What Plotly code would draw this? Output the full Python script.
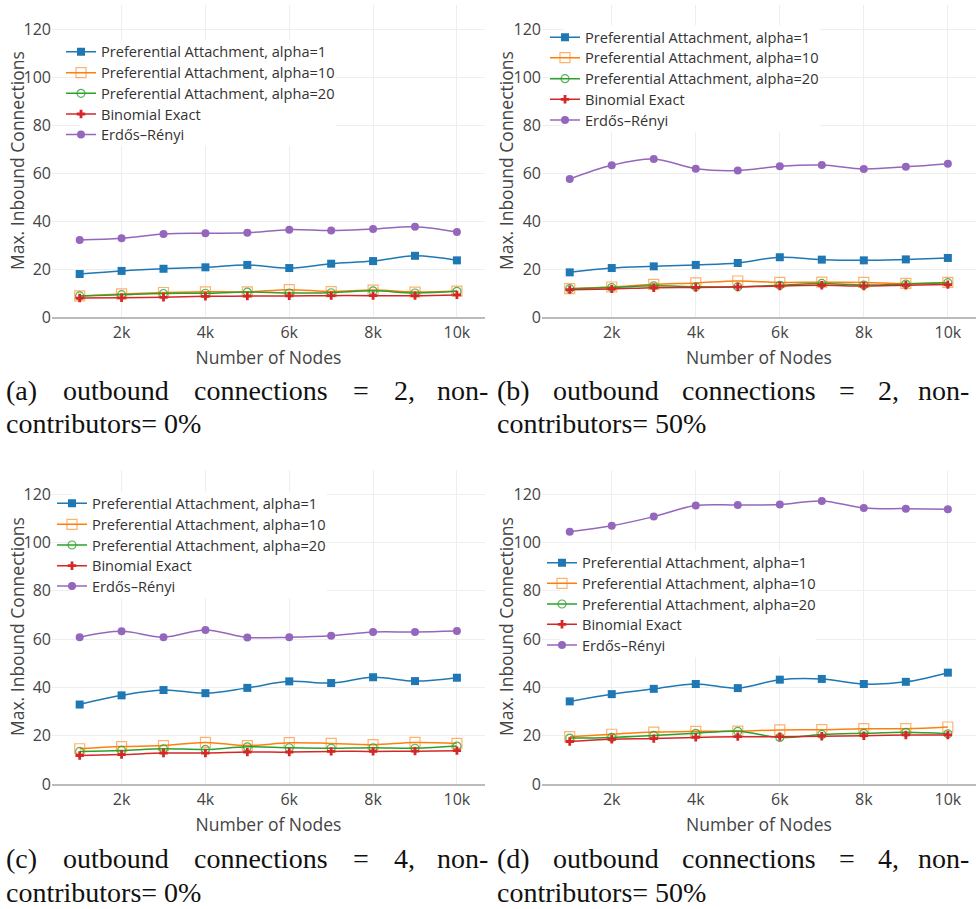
import plotly.graph_objects as go

nodes = [1000, 2000, 3000, 4000, 5000, 6000, 7000, 8000, 9000, 10000]
x_tickvals = [2000, 4000, 6000, 8000, 10000]
x_ticktext = ["2k", "4k", "6k", "8k", "10k"]
y_tickvals = [0, 20, 40, 60, 80, 100, 120]

series_names = [
    "Preferential Attachment, alpha=1",
    "Preferential Attachment, alpha=10",
    "Preferential Attachment, alpha=20",
    "Binomial Exact",
    "Erdős–Rényi",
]

# (a) outbound = 2, non-contributors = 0%
a_pa1 = [17.9, 19.2, 20.1, 20.7, 21.7, 20.4, 22.2, 23.3, 25.5, 23.6]
a_pa10 = [8.8, 9.6, 10.2, 10.5, 10.5, 11.4, 10.6, 11.2, 10.4, 10.8]
a_pa20 = [8.8, 9.3, 9.8, 9.9, 10.4, 10.0, 10.1, 10.9, 10.0, 10.7]
a_bin = [7.9, 8.0, 8.2, 8.6, 8.7, 8.8, 8.9, 8.9, 8.9, 9.2]
a_er = [32.1, 32.8, 34.6, 34.9, 35.1, 36.4, 36.0, 36.7, 37.6, 35.4]

# (b) outbound = 2, non-contributors = 50%
b_pa1 = [18.6, 20.4, 21.1, 21.7, 22.5, 24.9, 23.9, 23.6, 24.0, 24.6]
b_pa10 = [11.8, 12.5, 13.6, 14.2, 15.0, 14.4, 14.5, 14.4, 14.0, 14.4]
b_pa20 = [11.8, 12.3, 13.0, 12.6, 12.6, 13.2, 14.0, 13.3, 13.7, 14.3]
b_bin = [11.4, 11.7, 12.2, 12.3, 12.5, 12.9, 13.2, 12.9, 13.2, 13.5]
b_er = [57.5, 63.2, 65.8, 61.8, 61.0, 62.8, 63.3, 61.7, 62.6, 63.9]

# (c) outbound = 4, non-contributors = 0%
c_pa1 = [32.9, 36.7, 38.9, 37.6, 39.8, 42.5, 41.8, 44.2, 42.6, 44.0]
c_pa10 = [14.6, 15.5, 15.9, 17.2, 15.9, 17.1, 16.8, 16.3, 17.2, 16.8]
c_pa20 = [13.5, 13.9, 14.6, 14.3, 15.4, 15.0, 14.8, 15.0, 14.8, 15.7]
c_bin = [11.8, 12.2, 12.8, 12.8, 13.2, 13.2, 13.5, 13.5, 13.6, 13.8]
c_er = [60.8, 63.2, 60.8, 63.8, 60.7, 60.8, 61.4, 62.9, 62.9, 63.3]

# (d) outbound = 4, non-contributors = 50%
d_pa1 = [34.2, 37.2, 39.4, 41.4, 39.7, 43.2, 43.5, 41.4, 42.3, 46.1]
d_pa10 = [19.6, 20.6, 21.5, 21.8, 21.9, 22.4, 22.5, 22.9, 22.9, 23.6]
d_pa20 = [19.0, 19.3, 20.1, 21.0, 21.8, 19.3, 20.5, 21.0, 21.4, 20.8]
d_bin = [17.6, 18.5, 18.8, 19.3, 19.6, 19.6, 19.8, 20.0, 20.3, 20.3]
d_er = [104.4, 106.9, 110.7, 115.3, 115.5, 115.7, 117.2, 114.3, 114.0, 113.8]

panels = [
    [a_pa1, a_pa10, a_pa20, a_bin, a_er],
    [b_pa1, b_pa10, b_pa20, b_bin, b_er],
    [c_pa1, c_pa10, c_pa20, c_bin, c_er],
    [d_pa1, d_pa10, d_pa20, d_bin, d_er],
]

captions = [
    ["(a)", "outbound", "connections", "=", "2,", "non-"],
    ["(b)", "outbound", "connections", "=", "2,", "non-"],
    ["(c)", "outbound", "connections", "=", "4,", "non-"],
    ["(d)", "outbound", "connections", "=", "4,", "non-"],
]
captions_line2 = ["contributors= 0%", "contributors= 50%", "contributors= 0%", "contributors= 50%"]
y_title = "Max. Inbound Connections"
x_title = "Number of Nodes"

W, H = 976, 909
colors = ["#1f77b4", "#ff7f0e", "#2ca02c", "#d62728", "#9467bd"]
symbols = ["square", "square-open", "circle-open", "cross", "circle"]
msizes = [8, 10, 8, 7, 8]
mopac = [1.0, 0.6, 0.8, 1.0, 1.0]

# panel geometry in pixels: (left, right, top, bottom)
geo = [(52, 485, 5, 317), (542, 976, 5, 317), (52, 485, 470, 784), (542, 976, 470, 784)]
# legend text start x and item centre ys (pixels)
leg_text_x = [102, 586, 93, 583]
leg_item_y = [
    [51.7, 72.7, 93.3, 114.0, 134.5],
    [37.3, 57.7, 78.7, 99.3, 120.0],
    [503.3, 524.3, 545.0, 565.7, 586.0],
    [562.7, 583.3, 604.0, 624.3, 645.0],
]
# white legend background boxes (x0, x1, y0, y1) in pixels
leg_box = [(80, 336, 40, 146), (564, 820, 25, 132), (72, 327, 492, 598), (560, 816, 551, 657)]
ytitle_x = [17, 506, 17, 506]
cap_span = [(4, 490), (495, 971), (4, 490), (495, 971)]
cap_y = [(390, 424), (390, 424), (858, 892), (858, 892)]
CAP_SIZE = 28
cap_font = dict(family="Liberation Serif", size=CAP_SIZE, color="#111")

# approximate Liberation Serif advance widths (per 1000 em) for justification
tw = {'(': 333, ')': 333, 'a': 444, 'b': 500, 'c': 444, 'd': 500, 'o': 500, 'u': 500,
      't': 278, 'n': 500, 'e': 444, 'i': 278, 's': 389, '=': 564, '2': 500, '4': 500,
      ',': 250, '-': 333}


def word_w(w):
    return sum(tw.get(ch, 500) for ch in w) * CAP_SIZE / 1000.0


fig = go.Figure()
layout = dict(
    width=W, height=H,
    margin=dict(l=0, r=0, t=0, b=0),
    paper_bgcolor="white", plot_bgcolor="white",
    font=dict(family="Open Sans", color="#444"),
    showlegend=True,
)
annotations = []
shapes = []

for p in range(4):
    sfx = "" if p == 0 else str(p + 1)
    for s in range(5):
        k = p * 5 + s
        lg = "legend" if k == 0 else "legend" + str(k + 1)
        fig.add_trace(go.Scatter(
            x=nodes, y=panels[p][s], mode="lines+markers",
            name=series_names[s],
            line=dict(shape="spline", color=colors[s], width=1.5),
            marker=dict(symbol=symbols[s], size=msizes[s], color=colors[s], opacity=mopac[s],
                        line=dict(width=1.2, color=colors[s]) if "open" in symbols[s] else dict(width=0)),
            xaxis="x" + sfx, yaxis="y" + sfx, legend=lg,
        ))
        layout[lg] = dict(
            x=(leg_text_x[p] - 41) / W, y=1 - leg_item_y[p][s] / H,
            xanchor="left", yanchor="middle",
            bgcolor="rgba(255,255,255,0)", font=dict(size=14.6, color="#333"),
        )
    bx0, bx1, by0, by1 = leg_box[p]
    shapes.append(dict(
        type="rect", xref="paper", yref="paper", layer="above",
        x0=bx0 / W, x1=bx1 / W, y0=1 - by1 / H, y1=1 - by0 / H,
        fillcolor="white", line=dict(width=0),
    ))
    l, r, t, b = geo[p]
    layout["xaxis" + sfx] = dict(
        domain=[l / W, r / W], anchor="y" + sfx, range=[340, 10670],
        tickvals=x_tickvals, ticktext=x_ticktext, showgrid=True, gridcolor="#eeeeee",
        zeroline=False, showline=True, linecolor="#bbbbbb", linewidth=1.5,
        tickfont=dict(size=16, color="#444"), automargin=False,
        title=dict(text=x_title, font=dict(size=17.5, color="#444"), standoff=10),
    )
    layout["yaxis" + sfx] = dict(
        domain=[1 - b / H, 1 - t / H], anchor="x" + sfx, range=[0, 130],
        tickvals=y_tickvals, showgrid=True, gridcolor="#eeeeee", zeroline=False,
        showline=False, tickfont=dict(size=16, color="#444"), automargin=False,
    )
    annotations.append(dict(
        text=y_title, textangle=-90, x=ytitle_x[p] / W, y=1 - (t + b) / 2 / H,
        xref="paper", yref="paper", xanchor="center", yanchor="middle", showarrow=False,
        font=dict(family="Open Sans", size=17.5, color="#444"),
    ))
    # justified first caption line
    words = captions[p]
    L, R = cap_span[p]
    widths = [word_w(w) for w in words]
    gap = (R - L - sum(widths)) / (len(words) - 1)
    xpos = L
    for i, w in enumerate(words):
        last = i == len(words) - 1
        annotations.append(dict(
            text=w, x=(R if last else xpos) / W, y=1 - cap_y[p][0] / H, xref="paper", yref="paper",
            xanchor="right" if last else "left", yanchor="middle", showarrow=False, font=cap_font,
        ))
        xpos += widths[i] + gap
    annotations.append(dict(
        text=captions_line2[p], x=L / W, y=1 - cap_y[p][1] / H, xref="paper", yref="paper",
        xanchor="left", yanchor="middle", showarrow=False, font=cap_font,
    ))

layout["annotations"] = annotations
layout["shapes"] = shapes
fig.update_layout(**layout)
fig.write_html("out.html")
